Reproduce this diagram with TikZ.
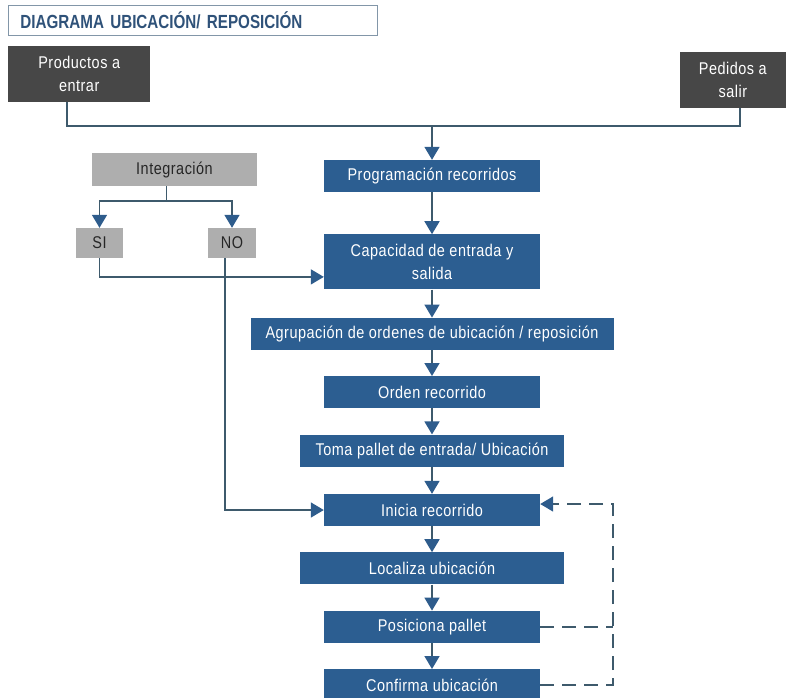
\documentclass[tikz,border=0pt]{standalone}
\usepackage{fontspec}
\setmainfont{Liberation Sans}[FakeStretch=0.85,LetterSpace=3]
\newfontfamily\headfont{Liberation Sans}[FakeStretch=0.8]
\usetikzlibrary{arrows.meta,positioning}
\definecolor{boxblue}{HTML}{2C5E91}
\definecolor{boxdark}{HTML}{474747}
\definecolor{boxgrey}{HTML}{AEAEAE}
\definecolor{lineslate}{HTML}{3E5A6C}
\definecolor{tipblue}{HTML}{2E5C8C}
\definecolor{titleblue}{HTML}{2F5279}
\definecolor{frameblue}{HTML}{8296A8}

\begin{document}
\begin{tikzpicture}[
  x=1pt,y=1pt,
  font=\fontsize{17}{23}\selectfont,
  line/.style={-{Triangle[width=15pt,length=13pt,color=tipblue]},
               line width=1.6pt,draw=lineslate},
  plain/.style={line width=1.6pt,draw=lineslate},
  back/.style={line width=1.6pt,draw=lineslate,dash pattern=on 14pt off 8pt},
  heading/.style={draw=frameblue,line width=0.8pt,text=titleblue,
                  font=\headfont\fontsize{19}{22}\selectfont\bfseries,
                  align=left,text width=345pt,inner xsep=12pt,
                  minimum height=30pt},
  source/.style={fill=boxdark,text=white,align=center,inner sep=0pt,
                 minimum height=56pt},
  option/.style={fill=boxgrey,text=black!85,align=center,inner sep=0pt,
                 minimum height=30pt},
  stepbox/.style={fill=boxblue,text=white,align=center,inner sep=0pt,
                  minimum width=216pt,minimum height=32pt}
]
\useasboundingbox (0,0) rectangle (786,-697);

\node[heading,anchor=north west] (title) at (8,-5)
  {DIAGRAMA UBICACIÓN/ REPOSICIÓN};
\node[source,anchor=north west,minimum width=142pt] (productos) at (8,-46)
  {Productos a\\entrar};
\node[source,anchor=north east,minimum width=106pt] (pedidos) at (786,-52)
  {Pedidos a\\salir};

% main column
\node[stepbox] (programacion) at (432,-176) {Programación recorridos};
\node[stepbox,minimum height=55pt,below=42pt of programacion] (capacidad)
  {Capacidad de entrada y\\salida};
\node[stepbox,minimum width=363pt,below=28pt of capacidad] (agrupacion)
  {Agrupación de ordenes de ubicación / reposición};
\node[stepbox,below=26pt of agrupacion] (orden) {Orden recorrido};
\node[stepbox,minimum width=264pt,below=26pt of orden] (toma)
  {Toma pallet de entrada/ Ubicación};
\node[stepbox,below=27pt of toma] (inicia) {Inicia recorrido};
\node[stepbox,minimum width=264pt,below=26pt of inicia] (localiza)
  {Localiza ubicación};
\node[stepbox,below=26pt of localiza] (posiciona) {Posiciona pallet};
\node[stepbox,below=26pt of posiciona] (confirma) {Confirma ubicación};

% integration branch
\node[option,minimum width=165pt,minimum height=33pt] (integracion)
  at (174.5,-169.5) {Integración};
\node[option,minimum width=47pt] (si) at (99.5,-243) {SI};
\node[option,minimum width=48pt] (no) at (232,-243) {NO};

\coordinate (merge) at (programacion.north |- 0,-126);
\coordinate (fork) at ([xshift=-8pt]integracion.south |- 0,-201);
\coordinate (loopback) at (613,-682);

\draw[plain] ([xshift=-12pt]productos.south) |- (merge)
  -| ([xshift=7pt]pedidos.south);
\draw[line] (merge) -- (programacion);
\draw[line] (programacion) -- (capacidad);
\draw[line] (capacidad) -- (agrupacion);
\draw[line] (agrupacion) -- (orden);
\draw[line] (orden) -- (toma);
\draw[line] (toma) -- (inicia);
\draw[line] (inicia) -- (localiza);
\draw[line] (localiza) -- (posiciona);
\draw[line] (posiciona) -- (confirma);

\draw[plain] ([xshift=-8pt]integracion.south) -- (fork);
\draw[line] (fork) -| (si.north);
\draw[line] (fork) -| (no.north);
\draw[line] (si.south) |- ([yshift=-15pt]capacidad.west);
\draw[line] ([xshift=-7pt]no.south) |- (inicia.west);

\draw[back] (posiciona.east) -- (loopback |- posiciona.east);
\draw[back,-{Triangle[width=15pt,length=13pt,color=tipblue]}]
  (confirma.east) -| (loopback) |- ([yshift=6pt]inicia.east);
\end{tikzpicture}
\end{document}
